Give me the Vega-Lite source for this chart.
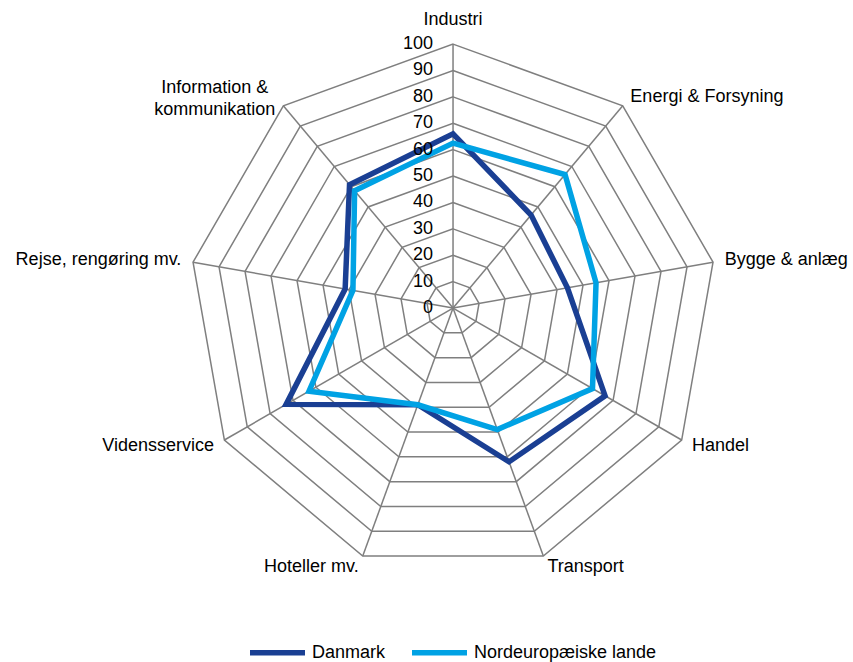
{
  "$schema": "https://vega.github.io/schema/vega-lite/v6.json",
  "width": 853,
  "height": 662,
  "autosize": {"type": "none"},
  "padding": 0,
  "background": "white",
  "config": {
    "view": {"stroke": null},
    "font": "Liberation Sans",
    "legend": {"padding": 0}
  },
  "datasets": {
    "rings": [
      {"level": 10, "k": [0,1,2,3,4,5,6,7,8]},
      {"level": 20, "k": [0,1,2,3,4,5,6,7,8]},
      {"level": 30, "k": [0,1,2,3,4,5,6,7,8]},
      {"level": 40, "k": [0,1,2,3,4,5,6,7,8]},
      {"level": 50, "k": [0,1,2,3,4,5,6,7,8]},
      {"level": 60, "k": [0,1,2,3,4,5,6,7,8]},
      {"level": 70, "k": [0,1,2,3,4,5,6,7,8]},
      {"level": 80, "k": [0,1,2,3,4,5,6,7,8]},
      {"level": 90, "k": [0,1,2,3,4,5,6,7,8]},
      {"level": 100, "k": [0,1,2,3,4,5,6,7,8]}
    ],
    "ticks": [
      {"v": 0}, {"v": 10}, {"v": 20}, {"v": 30}, {"v": 40}, {"v": 50},
      {"v": 60}, {"v": 70}, {"v": 80}, {"v": 90}, {"v": 100}
    ],
    "sectors": [
      {"i": 0, "sektor": "Industri"},
      {"i": 1, "sektor": "Energi & Forsyning"},
      {"i": 2, "sektor": "Bygge & anlæg"},
      {"i": 3, "sektor": "Handel"},
      {"i": 4, "sektor": "Transport"},
      {"i": 5, "sektor": "Hoteller mv."},
      {"i": 6, "sektor": "Vidensservice"},
      {"i": 7, "sektor": "Rejse, rengøring mv."},
      {"i": 8, "sektor": "Information &\nkommunikation"}
    ],
    "series": [
      {"series": "Danmark", "i": 0, "value": 66},
      {"series": "Danmark", "i": 1, "value": 46},
      {"series": "Danmark", "i": 2, "value": 44},
      {"series": "Danmark", "i": 3, "value": 66.5},
      {"series": "Danmark", "i": 4, "value": 62},
      {"series": "Danmark", "i": 5, "value": 39},
      {"series": "Danmark", "i": 6, "value": 73},
      {"series": "Danmark", "i": 7, "value": 41.5},
      {"series": "Danmark", "i": 8, "value": 61},
      {"series": "Nordeuropæiske lande", "i": 0, "value": 62.5},
      {"series": "Nordeuropæiske lande", "i": 1, "value": 66},
      {"series": "Nordeuropæiske lande", "i": 2, "value": 55},
      {"series": "Nordeuropæiske lande", "i": 3, "value": 61},
      {"series": "Nordeuropæiske lande", "i": 4, "value": 49},
      {"series": "Nordeuropæiske lande", "i": 5, "value": 39},
      {"series": "Nordeuropæiske lande", "i": 6, "value": 63},
      {"series": "Nordeuropæiske lande", "i": 7, "value": 38.5},
      {"series": "Nordeuropæiske lande", "i": 8, "value": 58}
    ]
  },
  "layer": [
    {
      "data": {"name": "rings"},
      "transform": [
        {"flatten": ["k"]},
        {"calculate": "datum.level * sin(datum.k * 2 * PI / 9)", "as": "x"},
        {"calculate": "datum.level * cos(datum.k * 2 * PI / 9)", "as": "y"}
      ],
      "mark": {"type": "line", "interpolate": "linear-closed", "stroke": "#7F7F7F", "strokeWidth": 1.5},
      "encoding": {
        "x": {"field": "x", "type": "quantitative", "scale": {"domain": [-171.6, 151.5], "nice": false, "zero": false}, "axis": null},
        "y": {"field": "y", "type": "quantitative", "scale": {"domain": [-134.1, 116.7], "nice": false, "zero": false}, "axis": null},
        "detail": {"field": "level"},
        "order": {"field": "k", "type": "quantitative"}
      }
    },
    {
      "data": {"name": "sectors"},
      "transform": [
        {"calculate": "0", "as": "x0"},
        {"calculate": "100 * sin(datum.i * 2 * PI / 9)", "as": "x"},
        {"calculate": "100 * cos(datum.i * 2 * PI / 9)", "as": "y"}
      ],
      "mark": {"type": "rule", "stroke": "#7F7F7F", "strokeWidth": 1.5},
      "encoding": {
        "x": {"field": "x0", "type": "quantitative"},
        "y": {"field": "x0", "type": "quantitative"},
        "x2": {"field": "x"},
        "y2": {"field": "y"}
      }
    },
    {
      "data": {"name": "series"},
      "transform": [
        {"calculate": "datum.value * sin(datum.i * 2 * PI / 9)", "as": "x"},
        {"calculate": "datum.value * cos(datum.i * 2 * PI / 9)", "as": "y"}
      ],
      "mark": {"type": "line", "interpolate": "linear-closed", "strokeWidth": 5.5, "strokeJoin": "miter"},
      "encoding": {
        "x": {"field": "x", "type": "quantitative"},
        "y": {"field": "y", "type": "quantitative"},
        "order": {"field": "i", "type": "quantitative"},
        "color": {
          "field": "series", "type": "nominal",
          "scale": {"domain": ["Danmark", "Nordeuropæiske lande"], "range": ["#1A3F93", "#00A2E4"]},
          "legend": {
            "title": null,
            "orient": "none",
            "direction": "horizontal",
            "legendX": 247,
            "legendY": 622,
            "symbolType": "stroke",
            "symbolSize": 3025,
            "symbolStrokeWidth": 5.5,
            "labelFontSize": 18,
            "labelFont": "Liberation Sans",
            "labelColor": "#000000",
            "labelOffset": 4,
            "labelLimit": 400,
            "columnPadding": 15
          }
        }
      }
    },
    {
      "data": {"name": "sectors"},
      "transform": [
        {"filter": "datum.i == 0"},
        {"calculate": "109 * sin(datum.i * 2 * PI / 9)", "as": "x"},
        {"calculate": "109 * cos(datum.i * 2 * PI / 9)", "as": "y"}
      ],
      "mark": {"type": "text", "fontSize": 18, "font": "Liberation Sans", "align": "center", "baseline": "middle", "color": "#000000"},
      "encoding": {
        "x": {"field": "x", "type": "quantitative"},
        "y": {"field": "y", "type": "quantitative"},
        "text": {"field": "sektor"}
      }
    },
    {
      "data": {"name": "sectors"},
      "transform": [
        {"filter": "datum.i >= 1 && datum.i <= 4"},
        {"calculate": "104.5 * sin(datum.i * 2 * PI / 9)", "as": "x"},
        {"calculate": "104.5 * cos(datum.i * 2 * PI / 9)", "as": "y"}
      ],
      "mark": {"type": "text", "fontSize": 18, "font": "Liberation Sans", "align": "left", "baseline": "middle", "color": "#000000"},
      "encoding": {
        "x": {"field": "x", "type": "quantitative"},
        "y": {"field": "y", "type": "quantitative"},
        "text": {"field": "sektor"}
      }
    },
    {
      "data": {"name": "sectors"},
      "transform": [
        {"filter": "datum.i >= 5 && datum.i <= 7"},
        {"calculate": "104.5 * sin(datum.i * 2 * PI / 9)", "as": "x"},
        {"calculate": "104.5 * cos(datum.i * 2 * PI / 9)", "as": "y"}
      ],
      "mark": {"type": "text", "fontSize": 18, "font": "Liberation Sans", "align": "right", "baseline": "middle", "color": "#000000"},
      "encoding": {
        "x": {"field": "x", "type": "quantitative"},
        "y": {"field": "y", "type": "quantitative"},
        "text": {"field": "sektor"}
      }
    },
    {
      "data": {"name": "sectors"},
      "transform": [
        {"filter": "datum.i == 8"},
        {"calculate": "104.5 * sin(datum.i * 2 * PI / 9)", "as": "x"},
        {"calculate": "104.5 * cos(datum.i * 2 * PI / 9)", "as": "y"}
      ],
      "mark": {"type": "text", "fontSize": 18, "font": "Liberation Sans", "align": "center", "baseline": "middle", "lineBreak": "\n", "lineHeight": 22, "dx": -61, "dy": -9, "color": "#000000"},
      "encoding": {
        "x": {"field": "x", "type": "quantitative"},
        "y": {"field": "y", "type": "quantitative"},
        "text": {"field": "sektor"}
      }
    },
    {
      "data": {"name": "ticks"},
      "transform": [{"calculate": "0", "as": "x0"}],
      "mark": {"type": "text", "fontSize": 18, "font": "Liberation Sans", "align": "right", "baseline": "middle", "dx": -20, "color": "#000000"},
      "encoding": {
        "x": {"field": "x0", "type": "quantitative"},
        "y": {"field": "v", "type": "quantitative"},
        "text": {"field": "v"}
      }
    }
  ]
}
